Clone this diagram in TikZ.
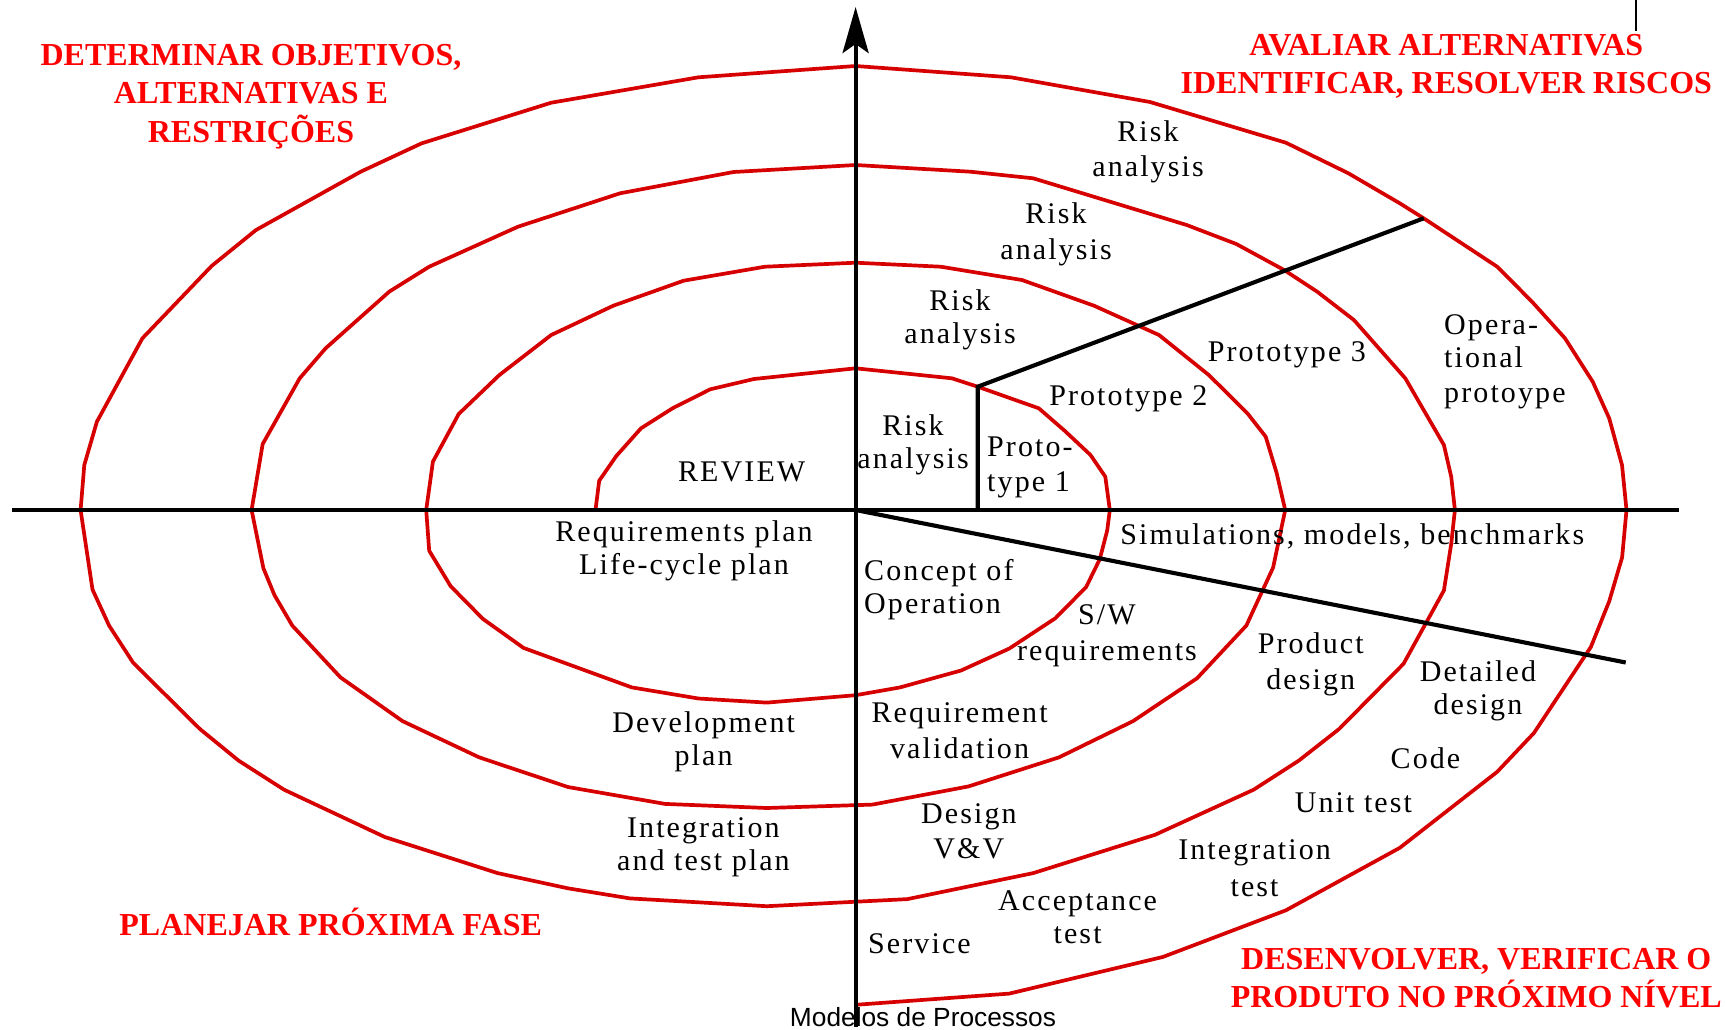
\documentclass[tikz,border=0pt]{standalone}
\usepackage{fontspec}
\setmainfont{Liberation Serif}
\newfontfamily\lblfam[LetterSpace=7]{Liberation Serif}
\newfontfamily\capfam{Liberation Sans}
\usetikzlibrary{arrows.meta}
\definecolor{spiralred}{RGB}{214,0,0}
\definecolor{headred}{RGB}{255,0,0}
% stacked lines, baseline on the first line
\newcommand{\stk}[2][c]{\begin{tabular}[t]{@{}#1@{}}#2\end{tabular}}
\newcommand{\lblfont}{\lblfam\fontsize{30}{33}\selectfont}
\newcommand{\headfont}{\bfseries\fontsize{32}{38.3}\selectfont}

\begin{document}
\begin{tikzpicture}[x=1pt,y=-1pt,
  spiral/.style={draw=spiralred, line width=3.7pt, line join=miter},
  axis/.style={draw=black, line width=4.1pt},
  thin/.style={draw=black, line width=2.6pt},
  lbl/.style={font=\lblfont, inner sep=0pt, anchor=base},
  lbll/.style={font=\lblfont, inner sep=0pt, anchor=base west},
  head/.style={font=\headfont, text=headred, inner sep=0pt, anchor=base}]
\useasboundingbox (0,0) rectangle (1726,1029);

% reference points of the axes and dividers
\coordinate (axW) at (12,510);
\coordinate (axE) at (1679,510);
\coordinate (axS) at (855.6,1027);
\coordinate (axN) at (855.6,7);
\coordinate (O) at (855.6,510);
\coordinate (p1top) at (977.7,386.7);
\coordinate (p1bot) at (977.7,510);
\coordinate (p2) at (1423.7,218.3);
\coordinate (dEnd) at (1625.7,662.5);
\coordinate (tickTop) at (1636,0);
\coordinate (tickBot) at (1636,31);

% the spiral, from the inside out
\draw[spiral]
 (595.5,510) -- (599.2,480.7) -- (616.3,456) -- (641,428.3) -- (672.5,408.3) -- (710.2,389.3) -- (753.9,379) -- (855.6,368.3) -- (951.8,378.3) -- (977.7,386.7) -- (1038.8,408.3) -- (1064.6,430.7) -- (1090.5,455) -- (1105.3,476.7) -- (1109.8,510)
 -- (1107.2,530.4) -- (1099.8,559.1) -- (1086.1,587.1) -- (1055.4,618.2) -- (1009.2,648.6) -- (961,670.5) -- (900,687.4) -- (855.6,695.2) -- (766.8,702.6) -- (698.4,698.5) -- (631.8,687.4) -- (523.5,647.9) -- (482.8,618.8) -- (450.6,586.1) -- (429.2,550.7) -- (426.2,510)
 -- (432.9,461.7) -- (458.7,414) -- (499.4,375) -- (551.2,335) -- (613.3,305.7) -- (683.6,280.7) -- (765,266.7) -- (855.6,262.7) -- (940.7,266.7) -- (1022,280) -- (1094,305.7) -- (1159,335) -- (1208.8,375) -- (1247.4,413.3) -- (1265.7,436.7) -- (1276.7,473.3) -- (1285.2,510)
 -- (1273.1,567.6) -- (1246.3,625.6) -- (1197,678.3) -- (1133.1,721.1) -- (1059.1,757.3) -- (968.5,786.4) -- (872.3,804.6) -- (766.8,808) -- (665.1,803.9) -- (567.9,787) -- (479.1,757.3) -- (402.5,721.1) -- (340.4,677.3) -- (292.3,625.6) -- (274.5,595.2) -- (263.4,568.2) -- (251.6,510)
 -- (262.7,444) -- (299.7,378.3) -- (325.6,348.3) -- (389.2,291.7) -- (429.2,266.7) -- (518,226.7) -- (620,193.3) -- (733.5,172) -- (855.6,165) -- (970.3,171.7) -- (1033.2,178.3) -- (1186.7,225) -- (1236.3,244) -- (1284.1,270) -- (1317.2,291.7) -- (1353.9,320) -- (1405.3,378.3) -- (1443.9,445) -- (1451.2,476.7) -- (1454.9,510)
 -- (1451.2,543.9) -- (1443.9,590.5) -- (1403.5,663.8) -- (1339.2,728.9) -- (1298.8,760.6) -- (1253.6,789.7) -- (1155,834.8) -- (1033.2,873.1) -- (907.4,899.1) -- (766.8,906.2) -- (630,898.4) -- (567.9,888.3) -- (497.6,873.1) -- (384.8,837) -- (284.1,789.7) -- (238.6,760.6) -- (199.8,728.9) -- (133.2,662.8) -- (109.1,625.6) -- (92.5,589.5) -- (80.6,510)
 -- (84.3,465) -- (96.9,421.7) -- (142.4,338.3) -- (211.6,266) -- (256,230) -- (360.7,171.7) -- (421.7,143.3) -- (551.2,102.7) -- (698.4,77.3) -- (855.6,66) -- (1011,77.3) -- (1150,102) -- (1285.9,142.7) -- (1348.4,173.3) -- (1399.8,203.3) -- (1423.7,218.3) -- (1497.2,266.7) -- (1532,301.7) -- (1565,338.3) -- (1592.7,381.7) -- (1609.2,418.3) -- (1622,465) -- (1626.5,510)
 -- (1622.1,557.4) -- (1609.2,601.3) -- (1590.9,646.9) -- (1533.9,733) -- (1497.2,771.8) -- (1399.8,847.8) -- (1285.9,910.3) -- (1163,956.9) -- (1009.2,993.6) -- (855.6,1004.8);

% axes and phase dividers
\draw[axis] (axW) -- (axE);
\draw[axis, -{Stealth[length=46pt,width=26pt,inset=9pt]}] (axS) -- (axN);
\draw[axis] (O) -- (dEnd);
\draw[axis] (p1bot) -- (p1top) -- (p2);
\draw[thin] (tickTop) -- (tickBot);

% quadrant headings
\node[head] (hTL) at (251,65) {\stk{DETERMINAR OBJETIVOS,\\ALTERNATIVAS E\\RESTRIÇÕES}};
\node[head] (hTR) at (1446.3,55.5) {\stk{AVALIAR ALTERNATIVAS\\IDENTIFICAR, RESOLVER RISCOS}};
\node[head] (hBL) at (330.7,935.5) {PLANEJAR PRÓXIMA FASE};
\node[head, font=\bfseries\fontsize{32}{37}\selectfont] (hBR) at (1476.3,969) {\stk{DESENVOLVER, VERIFICAR O\\PRODUTO NO PRÓXIMO NÍVEL}};

% activities
\node[lbl] (risk1) at (913,435) {\stk{Risk\\analysis}};
\node[lbl] (risk2) at (960,310) {\stk{Risk\\analysis}};
\node[lbl] (risk3) at (1056,223.3) {\stk{Risk\\[3pt]analysis}};
\node[lbl] (risk4) at (1148,141) {\stk{Risk\\[2pt]analysis}};
\node[lbl] (review) at (741.7,481.7) {REVIEW};
\node[lbll] (proto1) at (987,456.7) {\stk[l]{Proto-\\[2pt]type 1}};
\node[lbl] (proto2) at (1128.3,405) {Prototype 2};
\node[lbl] (proto3) at (1286.9,361.7) {Prototype 3};
\node[lbll] (oproto) at (1444,334) {\stk[l]{Opera-\\tional\\[2pt]protoype}};
\node[lbl] (sim) at (1352.3,544.5) {Simulations, models, benchmarks};
\node[lbl] (reqplan) at (684,541) {\stk{Requirements plan\\Life-cycle plan}};
\node[lbll] (concept) at (864,580.5) {\stk[l]{Concept of\\Operation}};
\node[lbl] (swreq) at (1107,624.5) {\stk{S/W\\[3pt]requirements}};
\node[lbl] (pdesign) at (1310.7,653) {\stk{Product\\[3pt]design}};
\node[lbl] (ddesign) at (1477.9,681.5) {\stk{Detailed\\design}};
\node[lbl] (code) at (1425.5,768.3) {Code};
\node[lbl] (unit) at (1353.4,812.7) {Unit test};
\node[lbl] (integ) at (1254.6,859.5) {\stk{Integration\\[4pt]test}};
\node[lbl] (devplan) at (703.6,732.2) {\stk{Development\\plan}};
\node[lbl] (reqval) at (959.6,722) {\stk{Requirement\\[3pt]validation}};
\node[lbl] (itplan) at (703.4,837.7) {\stk{Integration\\and test plan}};
\node[lbl] (dvv) at (968.9,823.7) {\stk{Design\\[2pt]V\&V}};
\node[lbl] (accept) at (1077.6,910.5) {\stk{Acceptance\\test}};
\node[lbl] (service) at (919.5,953.3) {Service};
\node[inner sep=0pt, anchor=base, font=\capfam\fontsize{26.3}{30}\selectfont] (caption) at (923,1026.5) {Modelos de Processos};
\end{tikzpicture}
\end{document}
